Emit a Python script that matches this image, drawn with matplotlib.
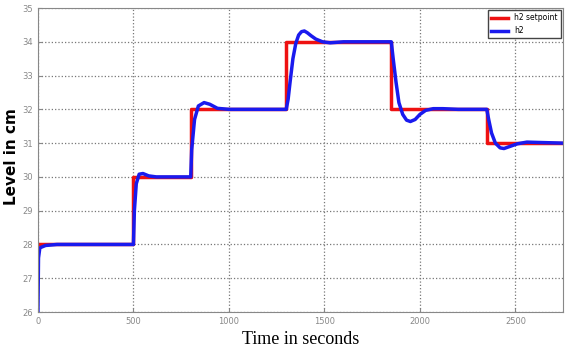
import matplotlib
matplotlib.use('Agg')
import matplotlib.pyplot as plt

# setpoint (step changes)
sp_t = [0, 500, 500, 800, 800, 1300, 1300, 1850, 1850, 2350, 2350, 2750]
sp_h = [28, 28, 30, 30, 32, 32, 34, 34, 32, 32, 31, 31]

h2_t = [0, 3, 10, 40, 100, 500, 505, 515, 530, 550, 580, 620, 800,
        805, 820, 840, 870, 900, 940, 1000, 1300,
        1310, 1320, 1335, 1350, 1365, 1380, 1395, 1410, 1430, 1455, 1490, 1530, 1600, 1850,
        1860, 1875, 1890, 1910, 1930, 1950, 1975, 2000, 2030, 2070, 2120, 2200, 2350,
        2360, 2375, 2395, 2420, 2440, 2470, 2510, 2560, 2620, 2750]
h2_h = [26, 27.6, 27.9, 27.97, 28, 28, 29.0, 29.8, 30.08, 30.1, 30.03, 30.0, 30.0,
        30.8, 31.7, 32.1, 32.2, 32.15, 32.03, 32.0, 32.0,
        32.3, 32.8, 33.5, 33.95, 34.2, 34.3, 34.32, 34.27, 34.18, 34.08, 34.0, 33.97, 34.0, 34.0,
        33.5, 32.8, 32.2, 31.85, 31.68, 31.64, 31.7, 31.85, 31.97, 32.02, 32.02, 32.0, 32.0,
        31.7, 31.3, 31.0, 30.86, 30.84, 30.9, 30.98, 31.03, 31.02, 31.0]

fig = plt.figure(figsize=(5.66, 3.49), dpi=100)
ax = fig.add_axes([0.067, 0.106, 0.928, 0.871])

ax.plot(sp_t, sp_h, color='#ee1111', linewidth=2.5, label='h2 setpoint')
ax.plot(h2_t, h2_h, color='#1a1aee', linewidth=2.5, label='h2')

ax.set_xlim(0, 2750)
ax.set_ylim(26, 35)
ax.set_xticks([0, 500, 1000, 1500, 2000, 2500])
ax.set_yticks(range(26, 36))
ax.grid(True, linestyle=':', color='#777777', linewidth=0.9)
ax.tick_params(labelsize=6, colors='#888888', length=3, direction='in')
for s in ax.spines.values():
    s.set_color('#888888')

ax.set_xlabel('Time in seconds', family='Liberation Serif', fontsize=13, labelpad=4)
ax.set_ylabel('Level in cm', fontsize=11, fontweight='bold')
ax.yaxis.set_label_coords(-0.036, 0.51)

leg = ax.legend(loc='upper right', fontsize=5.5, borderaxespad=0.3,
                handlelength=2.2, fancybox=False, framealpha=1)
leg.get_frame().set_edgecolor('#444444')

plt.savefig('out.png', dpi=100)
